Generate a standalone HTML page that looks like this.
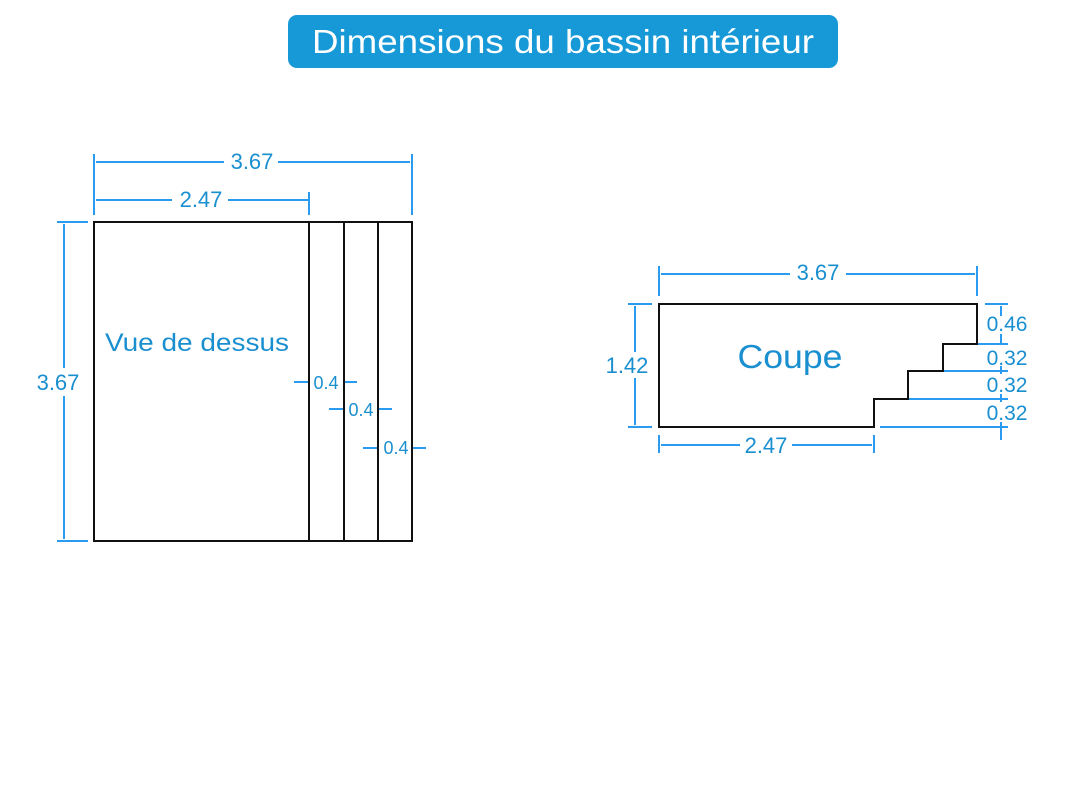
<!DOCTYPE html>
<html><head><meta charset="utf-8"><style>
html,body{margin:0;padding:0;background:#fff;width:1086px;height:800px;overflow:hidden}
svg{display:block}
text{font-family:"Liberation Sans",sans-serif;fill:#1a8fd0}
</style></head><body>
<svg width="1086" height="800" viewBox="0 0 1086 800" xmlns="http://www.w3.org/2000/svg">
<rect x="288" y="15" width="550" height="53" rx="9" fill="#1699d6"/>
<text x="563" y="53" text-anchor="middle" font-size="33" style="fill:#fff" textLength="502" lengthAdjust="spacingAndGlyphs">Dimensions du bassin intérieur</text>

<g stroke="#2a9bf0" stroke-width="2" fill="none">
<line x1="94" y1="154" x2="94" y2="215"/>
<line x1="412" y1="154" x2="412" y2="215"/>
<line x1="309" y1="192" x2="309" y2="215"/>
<line x1="96" y1="162" x2="224" y2="162"/><line x1="278" y1="162" x2="410" y2="162"/>
<line x1="96" y1="200" x2="172" y2="200"/><line x1="228" y1="200" x2="309" y2="200"/>
<line x1="57" y1="222" x2="88" y2="222"/><line x1="57" y1="541" x2="88" y2="541"/>
<line x1="64" y1="224" x2="64" y2="368"/><line x1="64" y1="396" x2="64" y2="539"/>
<line x1="294" y1="382" x2="309" y2="382"/><line x1="343" y1="382" x2="357" y2="382"/>
<line x1="329" y1="409" x2="344" y2="409"/><line x1="378" y1="409" x2="392" y2="409"/>
<line x1="363" y1="448" x2="378" y2="448"/><line x1="412" y1="448" x2="426" y2="448"/>
<line x1="309" y1="376" x2="309" y2="388"/><line x1="344" y1="403" x2="344" y2="415"/><line x1="378" y1="442" x2="378" y2="454"/>
<line x1="659" y1="266" x2="659" y2="296"/><line x1="977" y1="266" x2="977" y2="296"/>
<line x1="661" y1="274" x2="790" y2="274"/><line x1="846" y1="274" x2="975" y2="274"/>
<line x1="628" y1="304" x2="652" y2="304"/><line x1="628" y1="427" x2="652" y2="427"/>
<line x1="635" y1="306" x2="635" y2="352"/><line x1="635" y1="378" x2="635" y2="425"/>
<line x1="659" y1="435" x2="659" y2="453"/><line x1="874" y1="435" x2="874" y2="453"/>
<line x1="661" y1="445" x2="740" y2="445"/><line x1="792" y1="445" x2="872" y2="445"/>
<line x1="985" y1="304" x2="1008" y2="304"/>
<line x1="977" y1="344" x2="1008" y2="344"/>
<line x1="943" y1="371" x2="1008" y2="371"/>
<line x1="908" y1="399" x2="1008" y2="399"/>
<line x1="880" y1="427" x2="1008" y2="427"/>
<line x1="1001" y1="306" x2="1001" y2="316"/><line x1="1001" y1="334" x2="1001" y2="345"/>
<line x1="1001" y1="366" x2="1001" y2="374"/><line x1="1001" y1="394" x2="1001" y2="402"/>
<line x1="1001" y1="422" x2="1001" y2="440"/>
</g>

<g stroke="#111" stroke-width="2" fill="none">
<rect x="94" y="222" width="318" height="319"/>
<line x1="309" y1="222" x2="309" y2="541"/>
<line x1="344" y1="222" x2="344" y2="541"/>
<line x1="378" y1="222" x2="378" y2="541"/>
<path d="M659 304 H977 V344 H943 V371 H908 V399 H874 V427 H659 Z"/>
</g>

<text x="252" y="169" text-anchor="middle" font-size="22">3.67</text>
<text x="201" y="207" text-anchor="middle" font-size="22">2.47</text>
<text x="58" y="390" text-anchor="middle" font-size="22">3.67</text>
<text x="197" y="351" text-anchor="middle" font-size="25" textLength="184" lengthAdjust="spacingAndGlyphs">Vue de dessus</text>
<text x="326" y="389" text-anchor="middle" font-size="18">0.4</text>
<text x="361" y="416" text-anchor="middle" font-size="18">0.4</text>
<text x="396" y="454" text-anchor="middle" font-size="18">0.4</text>

<text x="818" y="280" text-anchor="middle" font-size="22">3.67</text>
<text x="627" y="373" text-anchor="middle" font-size="22">1.42</text>
<text x="766" y="453" text-anchor="middle" font-size="22">2.47</text>
<text x="790" y="368" text-anchor="middle" font-size="33" textLength="105" lengthAdjust="spacingAndGlyphs">Coupe</text>
<text x="1007" y="331" text-anchor="middle" font-size="21">0.46</text>
<text x="1007" y="365" text-anchor="middle" font-size="21">0.32</text>
<text x="1007" y="392" text-anchor="middle" font-size="21">0.32</text>
<text x="1007" y="420" text-anchor="middle" font-size="21">0.32</text>
</svg>
</body></html>
